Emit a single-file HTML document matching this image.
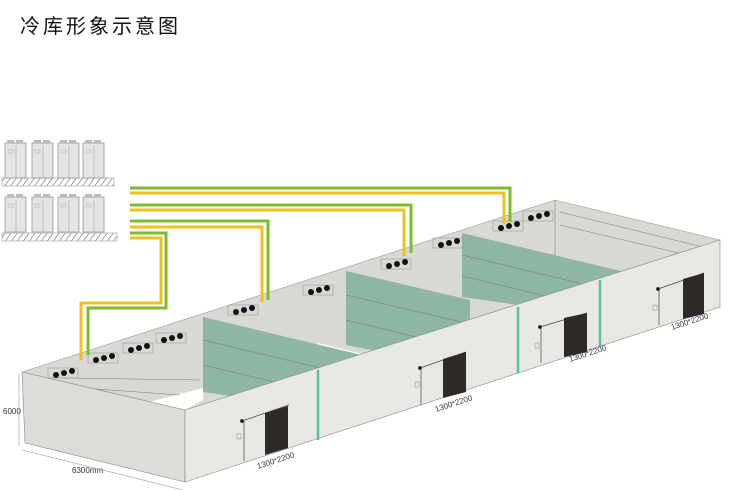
<!DOCTYPE html>
<html><head><meta charset="utf-8"><style>
html,body{margin:0;padding:0;background:#fff;width:730px;height:490px;overflow:hidden}
svg{display:block}
text{font-family:"Liberation Sans","Noto Sans CJK SC",sans-serif}
</style></head><body>
<svg width="730" height="490" viewBox="0 0 730 490" xmlns="http://www.w3.org/2000/svg">
<defs>
<pattern id="hatch" width="6" height="8" patternUnits="userSpaceOnUse"><path d="M0 8 L6 0" stroke="#888" stroke-width="0.8"/></pattern>
<g id="unit"><rect x="0" y="0" width="21" height="35" fill="#e4e4e4" stroke="#9a9a9a" stroke-width="0.8"/><rect x="2" y="-3" width="7" height="3" fill="#bbb"/><rect x="11" y="-3" width="7" height="3" fill="#bbb"/><line x1="11" y1="3" x2="11" y2="35" stroke="#aaa" stroke-width="0.6"/><rect x="3" y="7" width="5" height="3" fill="none" stroke="#aaa" stroke-width="0.5"/></g>
<g id="fan"><rect x="-12" y="-7" width="30" height="10" fill="none" stroke="#999" stroke-width="0.6"/><circle cx="-4" cy="0" r="3" fill="#111"/><circle cx="4" cy="-2" r="3" fill="#111"/><circle cx="12" cy="-4" r="3" fill="#111"/></g>
</defs>
<text x="20" y="33" font-size="20" letter-spacing="3" fill="#111">冷库形象示意图</text>

<use href="#unit" x="5" y="143"/><use href="#unit" x="32" y="143"/><use href="#unit" x="58" y="143"/><use href="#unit" x="83" y="143"/>
<rect x="2" y="178" width="112" height="8" fill="url(#hatch)" stroke="#999" stroke-width="0.6"/>
<use href="#unit" x="5" y="197"/><use href="#unit" x="32" y="197"/><use href="#unit" x="58" y="197"/><use href="#unit" x="83" y="197"/>
<rect x="2" y="233" width="115" height="8" fill="url(#hatch)" stroke="#999" stroke-width="0.6"/>

<polygon points="22,372 555,200 720,240 185,410" fill="#d8d8d4" stroke="#999" stroke-width="0.6"/>
<polygon points="145,403 203,388 203,400 185,410" fill="#fff"/>
<polygon points="318,343 362,354 345,362 320,356" fill="#fff"/>
<polygon points="203,317 362,355 362,415 203,392" fill="#8fb5a3"/>
<polygon points="346,271 470,300 470,370 346,345" fill="#8fb5a3"/>
<polygon points="462,233 625,272 625,320 462,297" fill="#8fb5a3"/>
<g stroke="#777" stroke-width="0.5" fill="none">
<line x1="203" y1="340" x2="362" y2="378"/><line x1="203" y1="365" x2="330" y2="395"/>
<line x1="346" y1="295" x2="470" y2="324"/><line x1="346" y1="320" x2="470" y2="350"/>
<line x1="462" y1="255" x2="625" y2="294"/><line x1="462" y1="276" x2="625" y2="315"/>
<line x1="555" y1="200" x2="555" y2="255"/><line x1="560" y1="212" x2="715" y2="250"/><line x1="560" y1="225" x2="700" y2="258"/>
<line x1="40" y1="385" x2="180" y2="395"/><line x1="60" y1="378" x2="200" y2="380"/>
</g>
<use href="#fan" x="60" y="375"/><use href="#fan" x="100" y="360"/><use href="#fan" x="135" y="350"/><use href="#fan" x="168" y="340"/>
<use href="#fan" x="240" y="312"/><use href="#fan" x="315" y="292"/><use href="#fan" x="393" y="266"/><use href="#fan" x="445" y="245"/><use href="#fan" x="505" y="228"/><use href="#fan" x="535" y="218"/>

<polygon points="22,372 185,410 185,482 25,443" fill="#dcdcd9" stroke="#888" stroke-width="0.6"/>
<polygon points="185,410 720,240 720,307 185,482" fill="#e7e7e4" stroke="#888" stroke-width="0.6"/>
<g stroke="#5fbf9c" stroke-width="2.5">
<line x1="318" y1="370" x2="318" y2="440"/><line x1="518" y1="307" x2="518" y2="373"/><line x1="600" y1="280" x2="600" y2="347"/>
</g>
<g stroke="#444" stroke-width="0.7">
<line x1="242" y1="421" x2="289" y2="405"/><line x1="244" y1="421" x2="244" y2="461"/><circle cx="242" cy="421" r="1.6" fill="#111"/>
<line x1="420" y1="368" x2="466" y2="352"/><line x1="421" y1="368" x2="421" y2="405"/><circle cx="420" cy="368" r="1.6" fill="#111"/>
<line x1="540" y1="327" x2="587" y2="313"/><line x1="541" y1="327" x2="541" y2="363"/><circle cx="540" cy="327" r="1.6" fill="#111"/>
<line x1="658" y1="289" x2="704" y2="273"/><line x1="659" y1="289" x2="659" y2="325"/><circle cx="658" cy="289" r="1.6" fill="#111"/>
</g>
<polygon points="265,413 288,406 288,448 265,455" fill="#2e2a27"/>
<polygon points="443,359 466,352 466,392 443,398" fill="#2e2a27"/>
<polygon points="564,318 587,313 587,352 564,357" fill="#2e2a27"/>
<polygon points="683,279 704,273 704,314 683,319" fill="#2e2a27"/>
<g fill="none" stroke="#999" stroke-width="0.6"><rect x="237" y="434" width="4" height="5"/><rect x="415" y="382" width="4" height="5"/><rect x="535" y="343" width="4" height="5"/><rect x="653" y="305" width="4" height="5"/></g>
<g font-size="8" fill="#333">
<text transform="translate(258,469) rotate(-18)">1300*2200</text>
<text transform="translate(436,412) rotate(-18)">1300*2200</text>
<text transform="translate(570,362) rotate(-18)">1300*2200</text>
<text transform="translate(672,330) rotate(-18)">1300*2200</text>
<text x="3" y="414">6000</text>
<text x="72" y="473">6300mm</text>
</g>
<g stroke="#999" stroke-width="0.6"><line x1="19" y1="374" x2="19" y2="446"/><line x1="22" y1="450" x2="183" y2="490"/></g>

<g fill="none" stroke-width="3">
<polyline points="130,188 510,188 510,222" stroke="#7dbb2e"/>
<polyline points="130,193 504,193 504,224" stroke="#f2c01a"/>
<polyline points="130,205 411,205 411,253" stroke="#7dbb2e"/>
<polyline points="130,210 404,210 404,256" stroke="#f2c01a"/>
<polyline points="130,221 268,221 268,300" stroke="#7dbb2e"/>
<polyline points="130,227 262,227 262,302" stroke="#f2c01a"/>
<polyline points="130,233 166,233 166,308 88,308 88,355" stroke="#7dbb2e"/>
<polyline points="130,238 161,238 161,303 81,303 81,360" stroke="#f2c01a"/>
</g>
</svg>
</body></html>
